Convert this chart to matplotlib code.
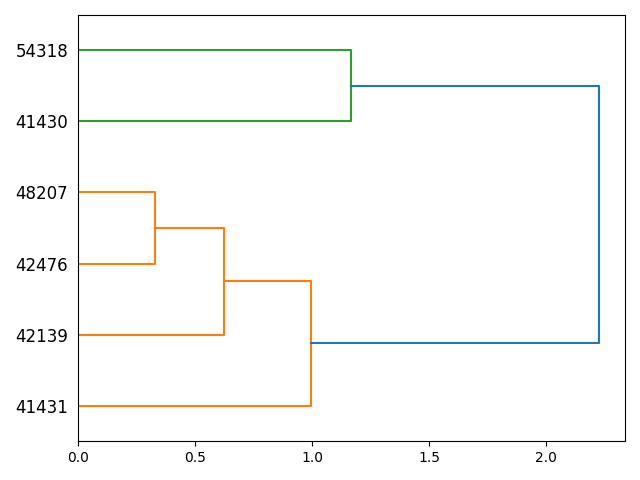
import matplotlib
matplotlib.use('Agg')
import matplotlib.pyplot as plt

# leaves from bottom to top
leaf_labels = ['41431', '42139', '42476', '48207', '41430', '54318']

# merges: (node a, node b, distance) - node ids >= len(leaf_labels) are earlier merges
merge_a = [2, 1, 0, 4, 8]
merge_b = [3, 6, 7, 5, 9]
merge_dist = [0.329, 0.624, 0.996, 1.167, 2.226]
merge_color = ['C1', 'C1', 'C1', 'C2', 'C0']

fig, ax = plt.subplots(figsize=(6.4, 4.8), dpi=100)

n = len(leaf_labels)
pos = {i: 5 + 10 * i for i in range(n)}  # vertical position of each node
hgt = {i: 0.0 for i in range(n)}          # distance of each node

for k in range(len(merge_a)):
    a, b, d = merge_a[k], merge_b[k], merge_dist[k]
    ya, yb = pos[a], pos[b]
    ax.plot([hgt[a], d, d, hgt[b]], [ya, ya, yb, yb], color=merge_color[k], linewidth=1.5)
    pos[n + k] = (ya + yb) / 2
    hgt[n + k] = d

ax.set_ylim(0, 10 * n)
ax.set_xlim(0, max(merge_dist) * 1.05)
ax.set_yticks([pos[i] for i in range(n)])
ax.set_yticklabels(leaf_labels, fontsize=12)
for line in ax.get_yticklines():
    line.set_visible(False)

plt.subplots_adjust(left=0.122, right=0.977, top=0.969, bottom=0.081)
plt.savefig('out.png')
